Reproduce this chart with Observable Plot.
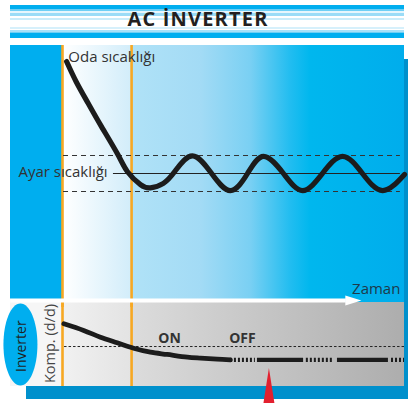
<!DOCTYPE html>
<html><head><meta charset="utf-8">
<script src="https://cdn.jsdelivr.net/npm/d3@7"></script>
<script src="https://cdn.jsdelivr.net/npm/@observablehq/plot@0.6"></script>
<style>
body{margin:0;background:#fff;font-family:"Open Sans",sans-serif;}
#wrap{position:relative;width:408px;height:403px;overflow:hidden;}
.abs{position:absolute;}
#title{left:10px;top:5px;width:394px;height:33px;box-sizing:border-box;padding-right:18px;
 text-align:center;line-height:33px;font:700 20px "Open Sans",sans-serif;letter-spacing:1.2px;color:#231f20;
 background:linear-gradient(to bottom,#00aeef 0 4px,#6fcff5 4px 6px,#e6f6fd 6px 8px,#9bdcf7 8px 11px,#fff 11px 13px,#c9ecfa 13px 15px,#fff 15px 22px,#d6f0fb 22px 24px,#fff 24px 25px,#a9e1f8 25px 27px,#6fcff5 27px 28px,#00aeef 28px 33px);}
#shadow{left:26px;top:59px;width:382px;height:340px;background:#0090cc;}
#topbg{left:10px;top:45px;width:394px;height:257px;
 background:linear-gradient(to right,#00aeef 0 52px,#ffffff 53px,#d2edfa 121px,#b0e2f7 122px,#a3dbf5 190px,#7ad0f3 240px,#22bdf0 280px,#00b7ee 300px,#00adec 394px);}
#botbg{left:10px;top:302px;width:394px;height:84px;
 background:linear-gradient(to right,#f6f6f6 0 52px,#f1f1f1 53px,#e3e3e3 121px,#dcdcdc 122px,#adadad 394px);}
#p1{left:0;top:45px;z-index:3;}
#p2{left:0;top:302px;z-index:2;}
</style></head><body>
<div id="wrap">
  <div class="abs" id="title">AC İNVERTER</div>
  <div class="abs" id="shadow"></div>
  <div class="abs" id="topbg"></div>
  <div class="abs" id="botbg"></div>
  <div class="abs" id="p2"></div>
  <div class="abs" id="p1"></div>
</div>
<script>
// ---- data (time in % of the shown period, temperature as deviation from set point) ----
const roomTime = [1.2, 4.0, 7.5, 11.1, 16.1, 19.0, 22.8, 25.7, 29.5, 33.0, 38.0, 43.6, 49.1, 54.1, 58.8, 64.6, 70.2, 76.0, 81.9, 87.7, 93.6, 100];
const roomTemp = [6.22, 5.1, 3.9, 2.7, 1.08, 0.1, -0.62, -0.8, -0.55, 0.15, 0.98, 0, -0.95, 0, 0.95, 0, -0.95, 0, 0.95, 0, -0.95, -0.05];
const setPoint = 0;
const bandLimits = [-1, 1];
const phaseLines = [0, 20.2];            // orange markers (start, set point reached)

const compTime = [0.4, 6.2, 11.1, 16.0, 20.8, 25.7, 30.6, 36.5, 40.4, 45.2, 49.1];
const compFreq = [74.6, 66.7, 58.7, 52.0, 45.6, 40.8, 38.1, 34.9, 33.7, 32.5, 31.8];
const lowFreq = 31.8;
const offLevel = 47.6;
const segStart = [49.1, 57.0, 71.3, 80.4, 96.2];
const segEnd   = [56.4, 70.5, 79.2, 95.3, 100];
const segMode  = ["cycle", "run", "cycle", "run", "cycle"];
const stateLabels = ["ON", "OFF"];
const stateTime = [31.3, 52.6];
const markerTime = 60.5;

// panel extents in data units
const tLeft = -15.2, tArrow = 83, tArrowTip = 87.4;
const tempArrow = -7.06;

const room = roomTime.map((t, i) => ({t, T: roomTemp[i]}));
const comp = compTime.map((t, i) => ({t, f: compFreq[i]}));
const segs = segStart.map((s, i) => ({start: s, end: segEnd[i], mode: segMode[i], f: lowFreq}));
const states = stateLabels.map((label, i) => ({label, t: stateTime[i]}));

const ORANGE = "#f7a823", INK = "#1c1c1c";
const xScale = {domain: [0, 100], range: [62, 404]};

// ---- top panel: room temperature ----
const p1 = Plot.plot({
  width: 408, height: 262,
  margin: 0, marginTop: 0, marginRight: 0, marginBottom: 0, marginLeft: 0,
  x: {...xScale, axis: null},
  y: {domain: [-1, 1], range: [146, 110], axis: null},
  style: {background: "transparent", fontFamily: "'Open Sans', sans-serif", overflow: "visible"},
  marks: [
    Plot.ruleX(phaseLines, {stroke: ORANGE, strokeWidth: 2.6}),
    Plot.ruleY(bandLimits, {x1: 0.3, x2: 98.8, stroke: "#333", strokeWidth: 1, strokeDasharray: "5,4"}),
    Plot.ruleY([setPoint], {x1: 14.9, x2: 98.8, stroke: "#222", strokeWidth: 1.1}),
    Plot.line(room, {x: "t", y: "T", curve: "natural", stroke: INK, strokeWidth: 5.2, strokeLinecap: "round"}),
    Plot.text(["Oda sıcaklığı"], {x: 1.7, y: 6.47, text: d => d, textAnchor: "start", fontSize: 15, fill: "#333"}),
    Plot.text(["Ayar sıcaklığı"], {x: 13.2, y: setPoint + 0.1, text: d => d, textAnchor: "end", fontSize: 15, fill: "#333"}),
    // time axis arrow (white shaft + head)
    Plot.ruleY([tempArrow], {x1: tLeft, x2: tArrow, stroke: "white", strokeWidth: 4}),
    Plot.line([{t: 82.7, T: -6.78}, {t: tArrowTip, T: tempArrow}, {t: 82.7, T: -7.34}], {x: "t", y: "T", fill: "white", stroke: "none"}),
    Plot.text(["Zaman"], {x: 98.8, y: -6.44, text: d => d, textAnchor: "end", fontSize: 15, fill: "#1d3a4a"})
  ]
});
document.getElementById("p1").appendChild(p1);

// ---- bottom panel: inverter compressor frequency ----
const ellipse = {draw(ctx) {
  const rx = 17, ry = 41, k = 0.5523;
  ctx.moveTo(rx, 0);
  ctx.bezierCurveTo(rx, k * ry, k * rx, ry, 0, ry);
  ctx.bezierCurveTo(-k * rx, ry, -rx, k * ry, -rx, 0);
  ctx.bezierCurveTo(-rx, -k * ry, -k * rx, -ry, 0, -ry);
  ctx.bezierCurveTo(k * rx, -ry, rx, -k * ry, rx, 0);
  ctx.closePath();
}};
const hw = 1.6;
const p2 = Plot.plot({
  width: 408, height: 101,
  margin: 0, marginTop: 0, marginRight: 0, marginBottom: 0, marginLeft: 0,
  x: {...xScale, axis: null},
  y: {domain: [0, 100], range: [84, 0], axis: null},
  style: {background: "transparent", fontFamily: "'Open Sans', sans-serif", overflow: "visible"},
  marks: [
    Plot.ruleX(phaseLines, {y1: 0, y2: 100, stroke: ORANGE, strokeWidth: 2.6}),
    Plot.ruleY([offLevel], {x1: 0.6, x2: 100, stroke: "#222", strokeWidth: 1, strokeDasharray: "2.5,2"}),
    Plot.line(comp, {x: "t", y: "f", curve: "catmull-rom", stroke: INK, strokeWidth: 4.8, strokeLinecap: "round"}),
    Plot.ruleY(segs.filter(d => d.mode === "run"), {y: "f", x1: "start", x2: "end", stroke: INK, strokeWidth: 4.2}),
    Plot.ruleY(segs.filter(d => d.mode === "cycle"), {y: "f", x1: "start", x2: "end", stroke: INK, strokeWidth: 4.2, strokeDasharray: "2,2"}),
    Plot.text(states, {x: "t", y: 57.1, text: "label", fontSize: 14, fontWeight: 700, fill: "#333"}),
    Plot.dot([{t: -12.3, f: 50}], {x: "t", y: "f", symbol: ellipse, fill: "#00aeef", stroke: "none"}),
    Plot.text(["Inverter"], {x: -12.1, y: 48, text: d => d, rotate: -90, fontSize: 14, fill: "#1f1f1f"}),
    Plot.text(["Komp. (d/d)"], {x: -3.5, y: 51.2, text: d => d, rotate: -90, fontSize: 14.5, fill: "#444"}),
    Plot.areaX([{f: -20.2, x1: markerTime - hw, x2: markerTime + hw}, {f: 21.4, x1: markerTime, x2: markerTime}],
      {y: "f", x1: "x1", x2: "x2", fill: "#e3202f"})
  ]
});
document.getElementById("p2").appendChild(p2);
</script>
</body></html>
